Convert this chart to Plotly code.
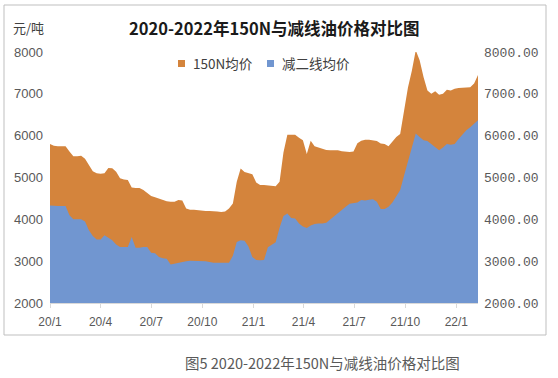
import pandas as pd
import plotly.graph_objects as go

# weekly price series (元/吨), starting first week of Jan 2020
start_date = "2020-01-01"
price_150n = [
    5800, 5760, 5750, 5750, 5750, 5620, 5510, 5510, 5520, 5450,
    5290, 5150, 5100, 5090, 5100, 5230, 5220, 5140, 4980, 4950,
    4940, 4760, 4750, 4750, 4700, 4620, 4560, 4530, 4500, 4470,
    4430, 4420, 4420, 4460, 4450, 4260, 4230, 4230, 4220, 4200,
    4200, 4200, 4200, 4190, 4175, 4190, 4260, 4380, 4900, 5215,
    5130, 5100, 5080, 4880, 4820, 4820, 4810, 4800, 4790, 4900,
    5600, 6020, 6020, 6020, 5950, 5890, 5560, 5880, 5750, 5720,
    5680, 5660, 5650, 5650, 5650, 5630, 5620, 5610, 5620, 5820,
    5880, 5900, 5900, 5880, 5870, 5810, 5800, 5750, 5860, 5970,
    6040, 6600, 7150, 7550, 8040, 7800, 7400, 7080, 7000, 7060,
    6980, 7000, 7100, 7080, 7120, 7140, 7145, 7150, 7160, 7250,
    7450,
]
price_jian2 = [
    4330, 4320, 4320, 4320, 4320, 4100, 4000, 4000, 4000, 3950,
    3740, 3600, 3520, 3520, 3620, 3560, 3500, 3400, 3340, 3340,
    3340, 3580, 3320, 3320, 3340, 3340, 3200, 3190, 3100, 3070,
    3060, 2920, 2940, 2970, 2990, 3000, 3010, 3010, 3010, 3010,
    3000, 2980, 2960, 2960, 2960, 2960, 2960, 3130, 3460, 3500,
    3490, 3350, 3100, 3030, 3020, 3030, 3330, 3390, 3450, 3800,
    4080, 4140, 4030, 4020, 3900, 3830, 3790, 3850, 3890, 3900,
    3900, 3920, 4000, 4060, 4140, 4220, 4300, 4370, 4390, 4400,
    4460, 4450, 4470, 4480, 4420, 4250, 4250, 4300, 4400, 4540,
    4700, 5050, 5400, 5750, 6050, 5970, 5890, 5870, 5800, 5730,
    5650, 5720, 5800, 5780, 5800, 5920, 6030, 6130, 6200, 6290,
    6370,
]
series_names = ["150N均价", "减二线均价"]
tick_dates = ["2020-01-01", "2020-04-01", "2020-07-01", "2020-10-01", "2021-01-01",
              "2021-04-01", "2021-07-01", "2021-10-01", "2022-01-01"]
tick_labels = ["20/1", "20/4", "20/7", "20/10", "21/1", "21/4", "21/7", "21/10", "22/1"]
y_ticks = [2000, 3000, 4000, 5000, 6000, 7000, 8000]

dates = pd.date_range(start_date, periods=len(price_150n), freq="7D")

ORANGE = "#D4843C"
BLUE = "#7196D0"
AX_FONT = dict(family="Liberation Sans, Noto Sans CJK SC", size=12, color="#595959")
CJK = "Noto Sans CJK SC, Liberation Sans"

# plot-area pixel geometry (for placing texts outside the plot)
PL, PR, PT, PB = 50, 478, 52, 303
PW, PH = PR - PL, PB - PT


def px(x):
    return (x - PL) / PW


def py(y):
    return (PB - y) / PH


fig = go.Figure()
fig.add_trace(go.Scatter(
    x=dates, y=price_150n, name=series_names[0], mode="lines",
    line=dict(width=0, color=ORANGE), fill="tozeroy", fillcolor=ORANGE,
    yaxis="y", showlegend=False,
))
fig.add_trace(go.Scatter(
    x=dates, y=price_jian2, name=series_names[1], mode="lines",
    line=dict(width=0, color=BLUE), fill="tozeroy", fillcolor=BLUE,
    yaxis="y2", showlegend=False,
))

fig.update_layout(
    width=558, height=378,
    margin=dict(l=PL, r=558 - PR, t=PT, b=378 - PB),
    paper_bgcolor="white", plot_bgcolor="white",
    xaxis=dict(
        type="date", range=[dates[0].strftime("%Y-%m-%d"), dates[-1].strftime("%Y-%m-%d")],
        tickvals=tick_dates, ticktext=tick_labels,
        showgrid=False, zeroline=False,
        showline=True, linecolor="#D9D9D9", linewidth=1,
        ticks="outside", ticklen=4, tickcolor="#D9D9D9",
        ticklabelstandoff=4,
        tickfont=AX_FONT,
    ),
    yaxis=dict(
        range=[2000, 8000], tickvals=y_ticks, showgrid=False, zeroline=False,
        showline=False, tickformat="d", ticklabelstandoff=6,
        tickfont=dict(family="Liberation Sans, Noto Sans CJK SC", size=13, color="#595959"),
    ),
    yaxis2=dict(
        range=[2000, 8000], tickvals=y_ticks, overlaying="y", side="right",
        showgrid=False, zeroline=False, showline=False,
        tickformat=".2f", ticklabelstandoff=5,
        tickfont=dict(family="Liberation Mono, DejaVu Sans Mono, monospace", size=13, color="#595959"),
    ),
)

# outer frame
fig.add_shape(type="rect", xref="paper", yref="paper",
              x0=px(4), x1=px(546), y0=py(335), y1=py(5),
              line=dict(color="#BFBFBF", width=1), fillcolor="rgba(0,0,0,0)", layer="below")

# legend (small squares + labels)
for x0, color, label in [(178, ORANGE, series_names[0]), (267, BLUE, series_names[1])]:
    fig.add_shape(type="rect", xref="paper", yref="paper",
                  x0=px(x0), x1=px(x0 + 7), y0=py(67), y1=py(60),
                  line=dict(width=0), fillcolor=color)
    fig.add_annotation(text=label, xref="paper", yref="paper",
                       x=px(x0 + 13), y=py(63.5), xanchor="left", yanchor="middle",
                       showarrow=False, font=dict(family=CJK, size=13.5, color="#404040"))

fig.add_annotation(text="元/吨", xref="paper", yref="paper",
                   x=px(11), y=py(27), xanchor="left", yanchor="middle",
                   showarrow=False, font=dict(family=CJK, size=13, color="#404040"))
fig.add_annotation(text="<b>2020-2022年150N与减线油价格对比图</b>", xref="paper", yref="paper",
                   x=px(274), y=py(28), xanchor="center", yanchor="middle",
                   showarrow=False, font=dict(family=CJK, size=16.5, color="#1a1a1a"))
fig.add_annotation(text="图5 2020-2022年150N与减线油价格对比图", xref="paper", yref="paper",
                   x=px(322), y=py(362), xanchor="center", yanchor="middle",
                   showarrow=False, font=dict(family=CJK, size=14.5, color="#595959"))

fig.write_html("out.html", config={"displayModeBar": False},
               post_script="document.body.style.margin='0';")
